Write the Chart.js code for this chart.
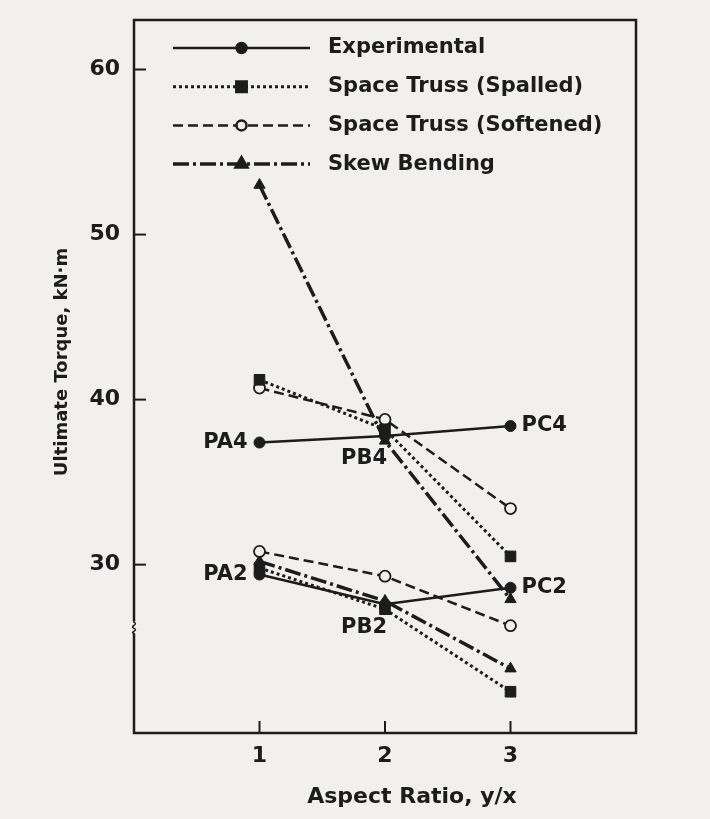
<!DOCTYPE html>
<html>
<head>
<meta charset="utf-8">
<title>Ultimate Torque</title>
<script src="https://cdn.jsdelivr.net/npm/chart.js@4.4.1/dist/chart.umd.min.js"></script>
<style>
  html, body { margin: 0; padding: 0; background: #f1f0ec; }
  canvas { display: block; }
</style>
</head>
<body>
<canvas id="grafico" width="710" height="819"></canvas>
<script>
const relacionAspecto = [1, 2, 3];
const marcasY = [30, 40, 50, 60];
const nombresSeries = ['Experimental', 'Space Truss (Spalled)', 'Space Truss (Softened)', 'Skew Bending'];
const tituloX = 'Aspect Ratio, y/x';
const tituloY = 'Ultimate Torque, kN·m';

// probetas PA4, PB4, PC4
const experimental4 = [37.4, 37.8, 38.4];
const spalled4 = [41.2, 38.2, 30.5];
const softened4 = [40.7, 38.8, 33.4];
const skew4 = [53.0, 37.5, 27.9];
// probetas PA2, PB2, PC2
const experimental2 = [29.4, 27.6, 28.6];
const spalled2 = [29.8, 27.3, 22.3];
const softened2 = [30.8, 29.3, 26.3];
const skew2 = [30.2, 27.8, 23.7];

const probetas4 = ['PA4', 'PB4', 'PC4'];
const probetas2 = ['PA2', 'PB2', 'PC2'];
const valorCorte = 26.2;   // donde va el simbolo de eje cortado

const tinta = '#1c1c1c';
const fondo = '#f1f0ec';
const fuente = '"DejaVu Sans", "Liberation Sans", Arial, sans-serif';

const estilos = [
    { borderDash: [], borderWidth: 2.5, pointStyle: 'circle', pointRadius: 5.5, pointBackgroundColor: tinta, pointBorderWidth: 1 },
    { borderDash: [3, 3], borderWidth: 3, pointStyle: 'rect', pointRadius: 7.5, pointBackgroundColor: tinta, pointBorderWidth: 1 },
    { borderDash: [10, 5], borderWidth: 2.5, pointStyle: 'circle', pointRadius: 5.5, pointBackgroundColor: fondo, pointBorderWidth: 1.8 },
    { borderDash: [16, 4, 3, 4], borderWidth: 3.5, pointStyle: 'triangle', pointRadius: 6.5, pointBackgroundColor: tinta, pointBorderWidth: 1 }
];

function armarDataset(valores, i) {
    return {
        label: nombresSeries[i],
        data: valores.map((v, j) => ({ x: relacionAspecto[j], y: v })),
        borderColor: tinta,
        pointBorderColor: tinta,
        tension: 0,
        fill: false,
        ...estilos[i]
    };
}

const grupo4 = [experimental4, spalled4, softened4, skew4];
const grupo2 = [experimental2, spalled2, softened2, skew2];
const datasets = grupo4.map(armarDataset).concat(grupo2.map(armarDataset));

/* fondo, marco, marcas hacia adentro y corte del eje */
const marco = {
    id: 'marco',
    beforeDraw(chart) {
        const ctx = chart.ctx;
        ctx.save();
        ctx.fillStyle = fondo;
        ctx.fillRect(0, 0, chart.width, chart.height);
        ctx.restore();
    },
    beforeDatasetsDraw(chart) {
        const { ctx, chartArea: a, scales } = chart;
        ctx.save();
        ctx.strokeStyle = tinta;
        ctx.lineWidth = 2.5;
        ctx.strokeRect(a.left, a.top, a.right - a.left, a.bottom - a.top);
        ctx.lineWidth = 2;
        scales.y.ticks.forEach(t => {
            const y = scales.y.getPixelForValue(t.value);
            ctx.beginPath(); ctx.moveTo(a.left, y); ctx.lineTo(a.left + 12, y); ctx.stroke();
        });
        scales.x.ticks.forEach(t => {
            const x = scales.x.getPixelForValue(t.value);
            ctx.beginPath(); ctx.moveTo(x, a.bottom); ctx.lineTo(x, a.bottom - 12); ctx.stroke();
        });
        // eje cortado
        const yc = scales.y.getPixelForValue(valorCorte);
        ctx.fillStyle = fondo;
        ctx.fillRect(a.left - 3, yc - 6, 6, 12);
        ctx.lineWidth = 1.5;
        ctx.beginPath();
        ctx.moveTo(a.left, yc - 8);
        ctx.lineTo(a.left, yc - 5);
        ctx.bezierCurveTo(a.left + 5, yc - 3, a.left - 5, yc - 1, a.left, yc + 1);
        ctx.bezierCurveTo(a.left + 5, yc + 3, a.left - 5, yc + 5, a.left, yc + 6);
        ctx.lineTo(a.left, yc + 8);
        ctx.stroke();

        // titulos de los ejes
        ctx.fillStyle = tinta;
        ctx.textAlign = 'center';
        ctx.textBaseline = 'middle';
        ctx.font = 'bold 22px ' + fuente;
        ctx.fillText(tituloX, a.left + 278, 797);
        ctx.translate(62, 362);
        ctx.rotate(-Math.PI / 2);
        ctx.font = 'bold 18px ' + fuente;
        ctx.fillText(tituloY, 0, 0);
        ctx.restore();
    }
};

/* leyenda dentro del marco */
const leyenda = {
    id: 'leyenda',
    afterDatasetsDraw(chart) {
        const { ctx, chartArea: a } = chart;
        ctx.save();
        for (let i = 0; i < nombresSeries.length; i++) {
            const ds = chart.data.datasets[i];
            const y = a.top + 28 + i * 38.7;
            const x0 = a.left + 39, x1 = a.left + 176;
            ctx.strokeStyle = tinta;
            ctx.lineWidth = ds.borderWidth;
            ctx.setLineDash(ds.borderDash);
            ctx.beginPath(); ctx.moveTo(x0, y); ctx.lineTo(x1, y); ctx.stroke();
            ctx.setLineDash([]);
            ctx.fillStyle = ds.pointBackgroundColor;
            ctx.strokeStyle = tinta;
            Chart.helpers.drawPoint(ctx, {
                pointStyle: ds.pointStyle,
                radius: ds.pointRadius - 0.5,
                borderWidth: ds.pointBorderWidth,
                rotation: 0
            }, (x0 + x1) / 2, y);
            ctx.fillStyle = tinta;
            ctx.font = 'bold 21px ' + fuente;
            ctx.textAlign = 'left';
            ctx.textBaseline = 'middle';
            ctx.fillText(nombresSeries[i], a.left + 194, y);
        }
        ctx.restore();
    }
};

/* nombres de las probetas junto a los puntos experimentales */
const etiquetasProbeta = {
    id: 'etiquetasProbeta',
    afterDatasetsDraw(chart) {
        const ctx = chart.ctx;
        ctx.save();
        ctx.font = 'bold 21px ' + fuente;
        ctx.fillStyle = tinta;
        ctx.textBaseline = 'middle';
        [[0, probetas4], [4, probetas2]].forEach(([indice, nombres]) => {
            const p = chart.getDatasetMeta(indice).data;
            ctx.textAlign = 'right';
            ctx.fillText(nombres[0], p[0].x - 12, p[0].y);
            ctx.fillText(nombres[1], p[1].x + 2, p[1].y + 23);
            ctx.textAlign = 'left';
            ctx.fillText(nombres[2], p[2].x + 11, p[2].y);
        });
        ctx.restore();
    }
};

new Chart(document.querySelector('#grafico').getContext('2d'), {
    type: 'line',
    data: { datasets: datasets },
    plugins: [marco, leyenda, etiquetasProbeta],
    options: {
        responsive: false,
        animation: false,
        layout: { padding: { top: 20, right: 74, left: 0, bottom: 0 } },
        plugins: {
            legend: { display: false },
            tooltip: { enabled: false }
        },
        elements: {
            line: { borderCapStyle: 'butt' },
            point: { hoverRadius: 0 }
        },
        scales: {
            x: {
                type: 'linear',
                min: 0,
                max: 4,
                afterBuildTicks: (s) => { s.ticks = relacionAspecto.map(v => ({ value: v })); },
                afterFit: (s) => { s.height = 86; },
                grid: { display: false },
                border: { display: false },
                ticks: { color: tinta, padding: 2, font: { family: fuente, size: 22, weight: 'bold' } }
            },
            y: {
                min: 19.8,
                max: 63.0,
                afterBuildTicks: (s) => { s.ticks = marcasY.map(v => ({ value: v })); },
                afterFit: (s) => { s.width = 134; },
                grid: { display: false },
                border: { display: false },
                ticks: { color: tinta, padding: 6, font: { family: fuente, size: 22, weight: 'bold' } }
            }
        }
    }
});
</script>
</body>
</html>
